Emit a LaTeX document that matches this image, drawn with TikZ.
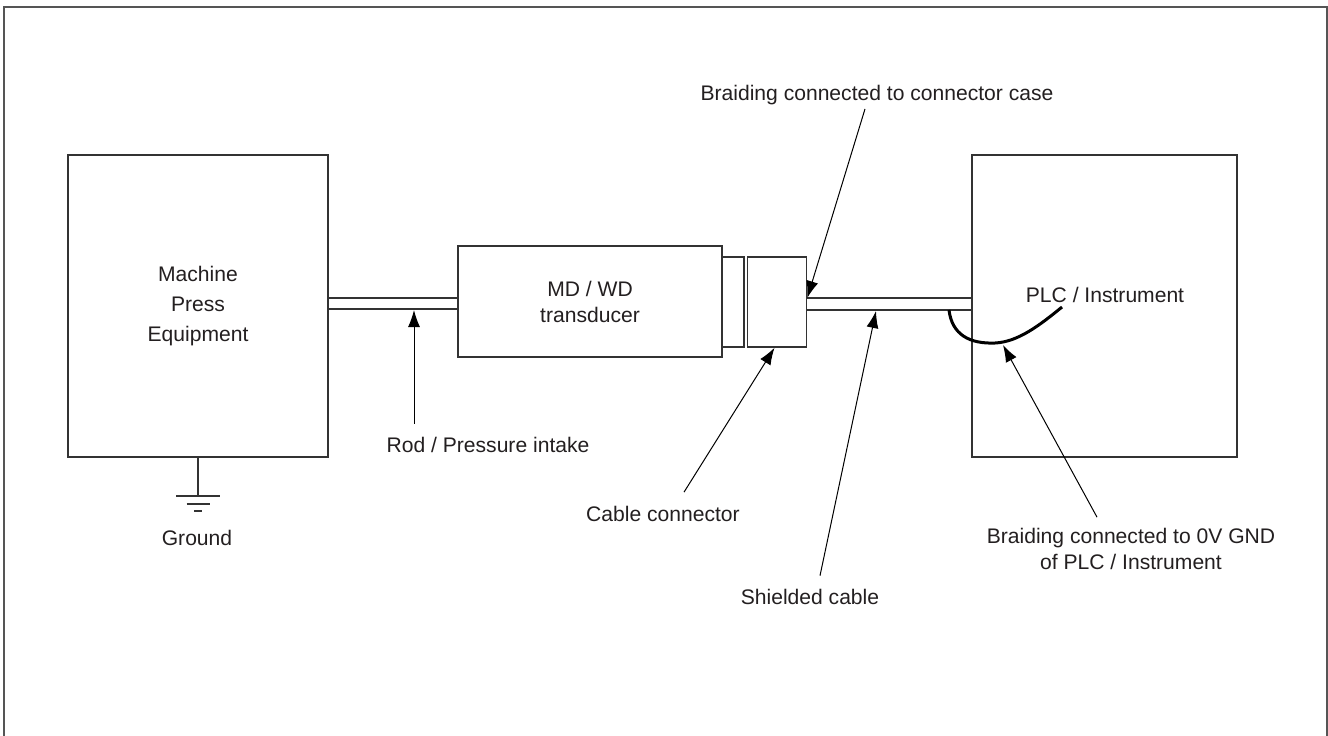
\documentclass[tikz,border=0pt]{standalone}
\usepackage{fontspec}
\setmainfont{Liberation Sans}
\usetikzlibrary{arrows.meta,positioning,calc}
\definecolor{dline}{HTML}{333333}
\definecolor{dtext}{HTML}{231F20}
\definecolor{dframe}{HTML}{555555}
\tikzset{
  blk/.style={draw=dline, line width=0.3mm, fill=white, inner sep=0pt},
  lbl/.style={text=dtext, font=\fontsize{12}{14.8}\selectfont, align=center, inner sep=1pt},
  arr/.style={-{Latex[length=3.4mm,width=2.4mm]}, line width=0.2mm, black},
  tube/.style={draw=dline, line width=0.3mm},
}

\begin{document}
\begin{tikzpicture}[x=0.2mm, y=-0.2mm]
  \useasboundingbox (0,0) rectangle (1328,735);
  \draw[dframe, line width=0.4mm] (4,745) -- (4,7) -- (1327,7) -- (1327,745);

  \node[blk, lbl, minimum width=52mm, minimum height=60.4mm,
        font=\fontsize{12}{17}\selectfont] (mach) at (198,306) {Machine\\Press\\Equipment};
  \node[blk, lbl, minimum width=52.8mm, minimum height=22.2mm] (trans) at (590,301.5) {MD / WD\\transducer};
  \node[blk, minimum width=4.4mm, minimum height=18mm] (cona) at (733,302) {};
  \node[blk, minimum width=11.8mm, minimum height=18mm, right=0.4mm of cona] (conb) {};
  \node[blk, minimum width=53mm, minimum height=60.4mm] (plc) at (1104.5,306) {};
  \node[lbl] (plctxt) at (1105,295) {PLC / Instrument};

  \coordinate (rodt) at (0,298);
  \coordinate (rodb) at (0,309);
  \coordinate (cabt) at (0,298);
  \coordinate (cabb) at (0,310);
  \draw[tube] (mach.east |- rodt) -- (trans.west |- rodt)
              (mach.east |- rodb) -- (trans.west |- rodb);
  \draw[tube] (conb.east |- cabt) -- (plc.west |- cabt)
              (conb.east |- cabb) -- (plc.west |- cabb);

  \draw[line width=0.6mm, black] (949,310) .. controls (952,335) and (970,344) .. (995,343)
        .. controls (1018,342) and (1040,325) .. (1062,307);
  \coordinate (braid) at (1003,345);
  \coordinate (rodtip) at (414,310);
  \coordinate (cabtip) at (876,311);

  \draw[tube] (mach.south) -- ++(0,38) coordinate (gnd);
  \draw[tube] (gnd) ++(-22,0) -- ++(44,0)
              (gnd) ++(-11.5,8) -- ++(23,0)
              (gnd) ++(-4,15) -- ++(8,0);
  \node[lbl] (gtxt) at (197,538) {Ground};

  \node[lbl] (lcase) at (877,95) {Braiding connected to connector case};
  \node[lbl] (lrod) at (488,445) {Rod / Pressure intake};
  \node[lbl] (lcon) at (663,514) {Cable connector};
  \node[lbl] (lsh) at (810,597) {Shielded cable};
  \node[lbl] (lgnd) at (1131,549) {Braiding connected to 0V GND\\of PLC / Instrument};

  \draw[arr] ([shift={(-12,2)}]lcase.south) -- (conb.east |- cabt);
  \draw[arr] ([shift={(-74,-11.5)}]lrod.north) -- (rodtip);
  \draw[arr] ([shift={(21,-12)}]lcon.north) -- ([xshift=-0.5mm]conb.south);
  \draw[arr] ([shift={(10,-11.5)}]lsh.north) -- (cabtip);
  \draw[arr] ([shift={(-34,-9)}]lgnd.north) -- (braid);
\end{tikzpicture}
\end{document}
